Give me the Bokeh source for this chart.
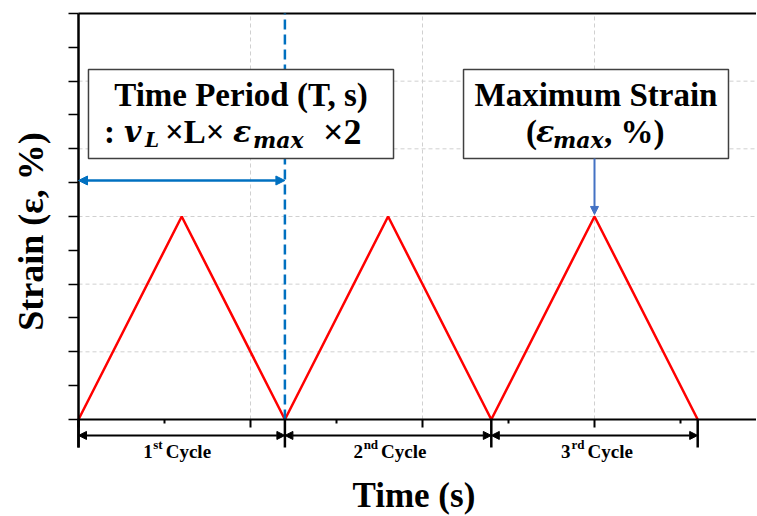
from bokeh.plotting import figure
from bokeh.models import (Label, BoxAnnotation, Arrow, NormalHead, FixedTicker,
                          LinearAxis, CustomJSTickFormatter)
from bokeh.embed import file_html
from bokeh.resources import INLINE

# ---------------- data ----------------
time_s = [0.0, 1.2, 2.4, 3.6, 4.8, 6.0, 7.2]
strain = [0.0, 3.0, 0.0, 3.0, 0.0, 3.0, 0.0]
cycle_edges = [0.0, 2.4, 4.8, 7.2]
cycle_nums = ["1", "2", "3"]
cycle_sups = ["st", "nd", "rd"]
y_ticks = [0, 0.5, 1, 1.5, 2, 2.5, 3, 3.5, 4, 4.5, 5, 5.5, 6]
y_grid = [1, 2, 3, 4, 5]
x_major = [0, 2, 4, 6]
x_minor = [1, 3, 5, 7]
x_grid = [2, 4, 6]
y_top = 6

period = time_s[2]
eps_max = max(strain)
peak_t = time_s[5]

# ---------------- style ----------------
SERIF = "Liberation Serif"
MATH = "DejaVu Serif"
BLUE = "#0070C0"
BLUE2 = "#4472C4"
GRID = "#d0d0d0"

# frame covers the whole canvas; 86 px per x unit, 67.67 px per y unit
X0, X1 = -0.9070, 7.8837
Y0, Y1 = -1.419, 6.192
BAR_BOTTOM = -0.414
ARROW_Y = -0.236

p = figure(frame_width=756, frame_height=515, x_range=(X0, X1), y_range=(Y0, Y1),
           output_backend="svg", toolbar_location=None,
           min_border_left=0, min_border_right=0, min_border_top=0, min_border_bottom=0,
           x_axis_type=None, y_axis_type=None)
p.outline_line_color = None
p.background_fill_color = "white"
p.border_fill_color = "white"

blank = CustomJSTickFormatter(code="return ''")

yax = LinearAxis(ticker=FixedTicker(ticks=y_ticks, minor_ticks=[]), bounds=(BAR_BOTTOM, y_top),
                 formatter=blank, fixed_location=0)
yax.axis_line_width = 2.5
yax.axis_line_color = "black"
yax.major_tick_out = 10
yax.major_tick_in = 0
yax.major_tick_line_width = 1.5
yax.major_tick_line_color = "black"
yax.minor_tick_line_color = None
yax.major_label_text_font_size = "0px"
p.add_layout(yax, "left")

xax = LinearAxis(ticker=FixedTicker(ticks=x_major, minor_ticks=x_minor), fixed_location=0,
                 bounds=(0, X1), formatter=blank)
xax.axis_line_width = 2
xax.axis_line_color = "black"
xax.major_tick_out = 8
xax.major_tick_in = 0
xax.minor_tick_out = 4
xax.minor_tick_in = 0
xax.major_tick_line_width = 2
xax.minor_tick_line_width = 2
xax.major_tick_line_color = "black"
xax.minor_tick_line_color = "black"
xax.major_label_text_font_size = "0px"
p.add_layout(xax, "below")

# grid lines
p.segment(x0=[0] * len(y_grid), x1=[X1] * len(y_grid), y0=y_grid, y1=y_grid,
          line_color=GRID, line_width=1, line_dash="4 3")
p.segment(x0=x_grid, x1=x_grid, y0=[0] * len(x_grid), y1=[y_top] * len(x_grid),
          line_color=GRID, line_width=1, line_dash="4 3")
# top border
p.segment(x0=[0], x1=[X1], y0=[y_top], y1=[y_top], line_color="black", line_width=2)

# strain curve
p.line(time_s, strain, line_color="#FF0000", line_width=2.5)

# period marker
p.segment(x0=[period], x1=[period], y0=[0], y1=[y_top], line_color=BLUE,
          line_width=2.5, line_dash="10 5")

# cycle bars
p.segment(x0=cycle_edges, x1=cycle_edges, y0=[0] * len(cycle_edges),
          y1=[BAR_BOTTOM] * len(cycle_edges), line_color="black", line_width=2.5)

# cycle arrows and labels
for i in range(len(cycle_nums)):
    a, b = cycle_edges[i], cycle_edges[i + 1]
    p.add_layout(Arrow(x_start=a, x_end=b, y_start=ARROW_Y, y_end=ARROW_Y,
                       start=NormalHead(size=8, fill_color="black", line_color="black"),
                       end=NormalHead(size=8, fill_color="black", line_color="black"),
                       line_color="black", line_width=2))
cyc_off = [-16, -7, -7]
sup_w = [10, 15, 14]
for i in range(len(cycle_nums)):
    c = (cycle_edges[i] + cycle_edges[i + 1]) / 2
    p.add_layout(Label(x=c, y=-0.47, x_offset=cyc_off[i], text="Cycle", text_align="left",
                       text_baseline="alphabetic", text_font=SERIF, text_font_style="bold",
                       text_font_size="19px", text_color="black"))
    p.add_layout(Label(x=c, y=-0.37, x_offset=cyc_off[i] - 3, text=cycle_sups[i],
                       text_align="right", text_baseline="alphabetic", text_font=SERIF,
                       text_font_style="bold", text_font_size="13px", text_color="black"))
    p.add_layout(Label(x=c, y=-0.47, x_offset=cyc_off[i] - 3 - sup_w[i], text=cycle_nums[i],
                       text_align="right", text_baseline="alphabetic", text_font=SERIF,
                       text_font_style="bold", text_font_size="19px", text_color="black"))

# time period arrow
p.add_layout(Arrow(x_start=0, x_end=period, y_start=3.532, y_end=3.532,
                   start=NormalHead(size=9, fill_color=BLUE, line_color=BLUE),
                   end=NormalHead(size=9, fill_color=BLUE, line_color=BLUE),
                   line_color=BLUE, line_width=2.5))

# boxes
B1L, B1R, B2L, B2R = 0.116, 3.663, 4.477, 7.558
BB, BT = 3.857, 5.172
for l, r in [(B1L, B1R), (B2L, B2R)]:
    p.add_layout(BoxAnnotation(left=l, right=r, bottom=BB, top=BT, fill_color="white",
                               fill_alpha=1, line_color="#404040", line_alpha=1,
                               line_width=1.5))

# max strain arrow
p.add_layout(Arrow(x_start=peak_t, x_end=peak_t, y_start=BB, y_end=eps_max + 0.03,
                   end=NormalHead(size=8, fill_color=BLUE2, line_color=BLUE2),
                   line_color=BLUE2, line_width=2))

def lab(x, y, dx, text, font=SERIF, style="bold", size="33px", align="left",
        angle=0.0, baseline="alphabetic"):
    p.add_layout(Label(x=x, y=y, x_offset=dx, text=text, text_align=align,
                       text_baseline=baseline, text_font=font, text_font_style=style,
                       text_font_size=size, text_color="black", angle=angle,
                       angle_units="deg"))

c1 = (B1L + B1R) / 2
c2 = (B2L + B2R) / 2
L1Y, L2Y, SUBY = 4.80, 4.25, 4.13

lab(c1, L1Y, 0, "Time Period (T, s)", align="center")
lab(c1, L2Y, -137, ":")
lab(c1, L2Y, -117, "v", font=MATH, style="bold italic", size="30px")
lab(c1, SUBY, -96, "L", font=MATH, style="bold italic", size="20px")
lab(c1, L2Y, -76, "×L×")
lab(c1, L2Y, -8, "ε", font=MATH, style="bold italic", size="30px")
lab(c1, SUBY, 12, "max", font=MATH, style="bold italic", size="22px")
lab(c1, L2Y, 82, "×2", size="36px")

lab(c2, L1Y, 0, "Maximum Strain", align="center")
lab(c2, L2Y, -70, "(")
lab(c2, L2Y, -60, "ε", font=MATH, style="bold italic", size="30px")
lab(c2, SUBY, -43, "max", font=MATH, style="bold italic", size="22px")
lab(c2, L2Y, 8, ", %)")

# y axis title
lab(-0.55, 2.778, 0, "Strain (ε, %)", size="36px", angle=90, align="center",
    baseline="middle")

# x axis title
lab(3.9, -1.13, 0, "Time (s)", size="35px", align="center")

open("out.html", "w").write(file_html(p, INLINE))
